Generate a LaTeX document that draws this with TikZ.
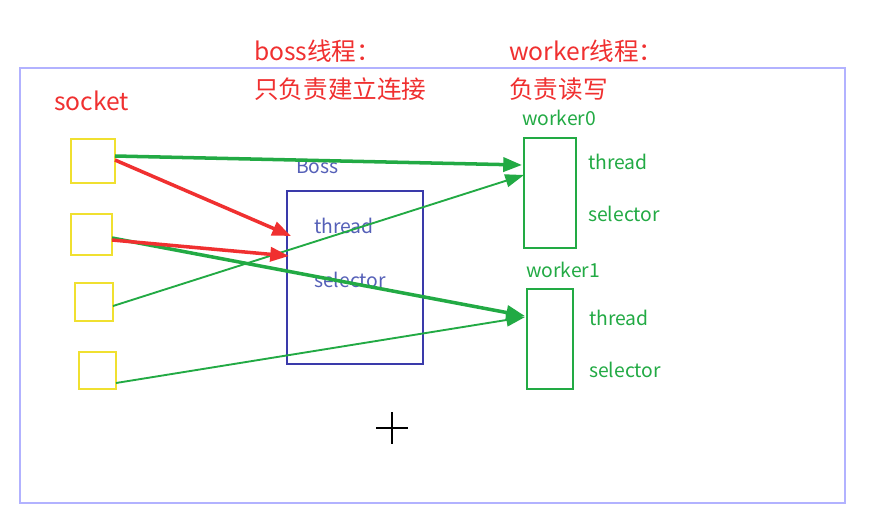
\documentclass[tikz,border=0pt]{standalone}
\usepackage{fontspec}
\setmainfont{Noto Sans CJK SC}
\usetikzlibrary{arrows.meta,calc}
\definecolor{rd}{HTML}{F03030}
\definecolor{gr}{HTML}{22AA44}
\definecolor{yl}{HTML}{F0E030}
\definecolor{bl}{HTML}{3A3AAA}
\definecolor{bt}{HTML}{5560B8}
\tikzset{
 redtxt/.style={text=rd,font=\fontsize{21}{24}\selectfont,anchor=west,inner sep=0},
 gtxt/.style={text=gr,font=\fontsize{16.5}{19}\selectfont,anchor=west,inner sep=0},
 btxt/.style={text=bt,font=\fontsize{16.5}{19}\selectfont,anchor=west,inner sep=0},
 sock/.style={draw=yl,line width=2.4pt},
 wbox/.style={draw=gr,line width=1.8pt},
 bbox/.style={draw=bl,line width=1.8pt},
 garr/.style={draw=gr,line width=3pt,-{Triangle[length=16pt,width=12pt]}},
 garrt/.style={draw=gr,line width=1.6pt,-{Triangle[length=16pt,width=11pt]}},
 rarr/.style={draw=rd,line width=3pt,-{Triangle[length=16pt,width=12pt]}},
}
\begin{document}
\begin{tikzpicture}[x=0.03cm,y=-0.03cm]
\useasboundingbox (0,0) rectangle (885,521);
\fill[white] (0,0) rectangle (885,521);
\draw[draw=blue!30,line width=1.2pt] (20,68) rectangle (845,503);
\node[redtxt] (t1) at (54,101) {socket};
\node[redtxt] (t2) at (254,51) {boss线程：};
\node[redtxt] (t3) at (254,89) {只负责建立连接};
\node[redtxt] (t4) at (509,51) {worker线程：};
\node[redtxt] (t5) at (509,89) {负责读写};
\draw[sock] (71,139) rectangle (115,183);
\draw[sock] (71,214) rectangle (112,255);
\draw[sock] (75,283) rectangle (113,321);
\draw[sock] (79,352) rectangle (116,389);
\coordinate (s1a) at (115,156);
\coordinate (s1b) at (115,160);
\coordinate (s2a) at (112,240);
\coordinate (s2b) at (112,238);
\coordinate (s3) at (113,306);
\coordinate (s4) at (116,383);
\draw[bbox] (287,191) rectangle (423,364);
\node[btxt] (bo) at (296,167) {Boss};
\node[btxt] (bt) at (314,226) {thread};
\node[btxt] (bs) at (314,280) {selector};
\draw[wbox] (524,138) rectangle (576,248);
\node[gtxt] (w0) at (522,118) {worker0};
\node[gtxt] (w0t) at (588,162) {thread};
\node[gtxt] (w0s) at (588,214) {selector};
\draw[wbox] (527,289) rectangle (573,389);
\node[gtxt] (w1) at (526,270) {worker1};
\node[gtxt] (w1t) at (589,318) {thread};
\node[gtxt] (w1s) at (589,370) {selector};
\coordinate (b1) at (291,236);
\coordinate (b2) at (289,256);
\coordinate (w0a) at (522,165);
\coordinate (w0b) at (524,175);
\coordinate (w1a) at (525,316);
\coordinate (w1b) at (525,317);
\draw[garr] (s1a) -- (w0a);
\draw[garrt] (s3) -- (w0b);
\draw[garr] (s2b) -- (w1a);
\draw[garrt] (s4) -- (w1b);
\draw[rarr] (s1b) -- (b1);
\draw[rarr] (s2a) -- (b2);
\draw[line width=1.2pt] (376,428) -- (408,428) (392,412) -- (392,444);
\end{tikzpicture}
\end{document}
